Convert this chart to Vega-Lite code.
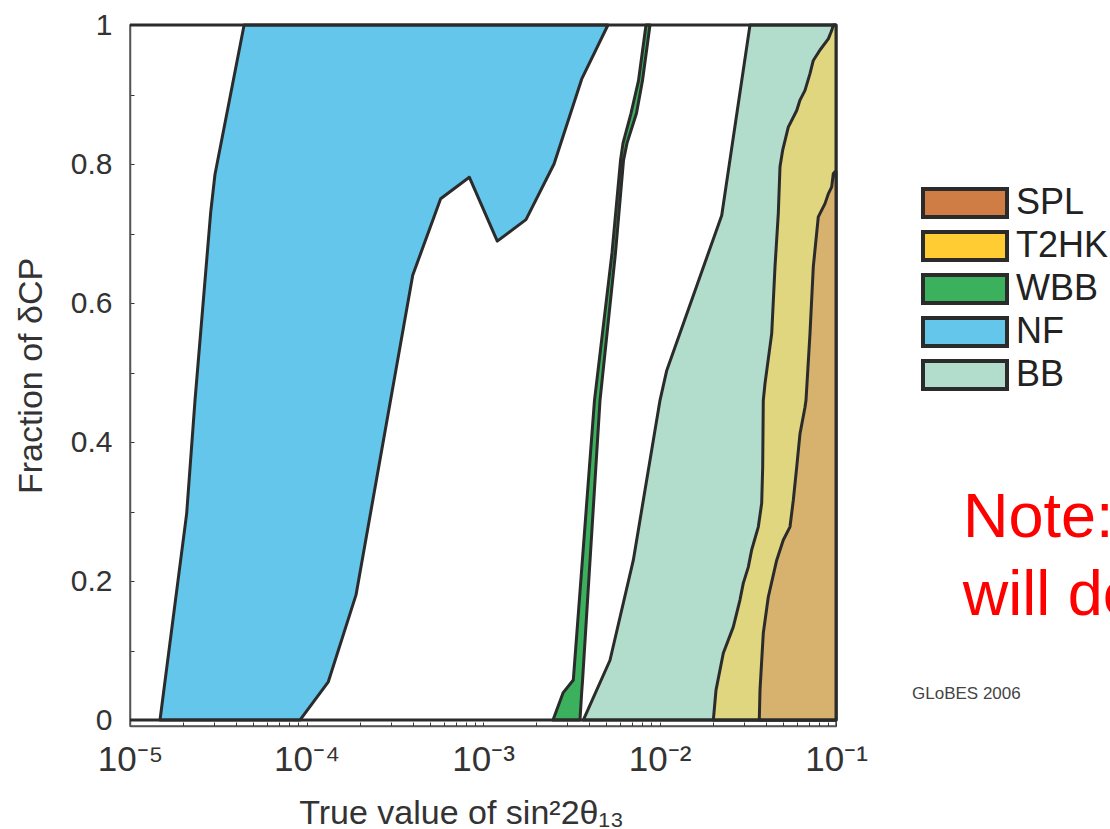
{
  "$schema": "https://vega.github.io/schema/vega-lite/v6.json",
  "autosize": {"type": "none"},
  "width": 706,
  "height": 701,
  "padding": {"left": 130, "top": 25, "right": 274, "bottom": 103},
  "background": "white",
  "config": {"font": "Liberation Sans", "view": {"stroke": "#555", "strokeWidth": 1.5}},
  "datasets": {
    "nf": [
      {"x": 1.479e-5, "lo": 0, "hi": 0},
      {"x": 2.094e-5, "lo": 0, "hi": 0.297},
      {"x": 2.335e-5, "lo": 0, "hi": 0.46},
      {"x": 2.864e-5, "lo": 0, "hi": 0.73},
      {"x": 3.03e-5, "lo": 0, "hi": 0.785},
      {"x": 4.43e-5, "lo": 0, "hi": 1},
      {"x": 9.18e-5, "lo": 0, "hi": 1},
      {"x": 1.329e-4, "lo": 0.055, "hi": 1},
      {"x": 1.908e-4, "lo": 0.18, "hi": 1},
      {"x": 3.998e-4, "lo": 0.64, "hi": 1},
      {"x": 5.754e-4, "lo": 0.75, "hi": 1},
      {"x": 8.365e-4, "lo": 0.781, "hi": 1},
      {"x": 1.205e-3, "lo": 0.689, "hi": 1},
      {"x": 1.752e-3, "lo": 0.72, "hi": 1},
      {"x": 2.526e-3, "lo": 0.8, "hi": 1},
      {"x": 3.622e-3, "lo": 0.922, "hi": 1},
      {"x": 5.105e-3, "lo": 1, "hi": 1}
    ],
    "wbb": [
      {"y": 0, "xl": 0.002493, "xr": 0.003544},
      {"y": 0.039, "xl": 0.00284, "xr": 0.003622},
      {"y": 0.0575, "xl": 0.003248, "xr": 0.003666},
      {"y": 0.46, "xl": 0.004282, "xr": 0.004602},
      {"y": 0.672, "xl": 0.005381, "xr": 0.005632},
      {"y": 0.805, "xl": 0.006012, "xr": 0.006252},
      {"y": 0.83, "xl": 0.006212, "xr": 0.006545},
      {"y": 0.873, "xl": 0.006895, "xr": 0.007407},
      {"y": 0.92, "xl": 0.007603, "xr": 0.008011},
      {"y": 1, "xl": 0.008385, "xr": 0.008835}
    ],
    "bb": [
      {"y": 0, "x": 0.0037},
      {"y": 0.086, "x": 0.005242},
      {"y": 0.23, "x": 0.007106},
      {"y": 0.46, "x": 0.010065},
      {"y": 0.503, "x": 0.01099},
      {"y": 0.726, "x": 0.02251},
      {"y": 1, "x": 0.03256}
    ],
    "t2hk": [
      {"y": 0, "x": 0.02018}, {"y": 0.043, "x": 0.0209}, {"y": 0.096, "x": 0.02298},
      {"y": 0.134, "x": 0.02619}, {"y": 0.173, "x": 0.02858}, {"y": 0.197, "x": 0.02984},
      {"y": 0.22, "x": 0.03185}, {"y": 0.245, "x": 0.0333}, {"y": 0.278, "x": 0.0363},
      {"y": 0.312, "x": 0.03793}, {"y": 0.364, "x": 0.03843}, {"y": 0.46, "x": 0.03873},
      {"y": 0.484, "x": 0.0396}, {"y": 0.556, "x": 0.04322}, {"y": 0.652, "x": 0.04512},
      {"y": 0.729, "x": 0.04711}, {"y": 0.796, "x": 0.04816}, {"y": 0.82, "x": 0.04989},
      {"y": 0.853, "x": 0.05366}, {"y": 0.877, "x": 0.05989}, {"y": 0.892, "x": 0.06252},
      {"y": 0.906, "x": 0.06673}, {"y": 0.93, "x": 0.07122}, {"y": 0.949, "x": 0.07436},
      {"y": 0.964, "x": 0.08115}, {"y": 0.98, "x": 0.09045}, {"y": 0.992, "x": 0.09454},
      {"y": 1, "x": 0.09654}
    ],
    "spl": [
      {"y": 0, "x": 0.03676}, {"y": 0.043, "x": 0.0371}, {"y": 0.125, "x": 0.03873},
      {"y": 0.177, "x": 0.04134}, {"y": 0.23, "x": 0.04613}, {"y": 0.259, "x": 0.05028},
      {"y": 0.278, "x": 0.05487}, {"y": 0.316, "x": 0.05728}, {"y": 0.364, "x": 0.05989},
      {"y": 0.412, "x": 0.06252}, {"y": 0.45, "x": 0.06673}, {"y": 0.46, "x": 0.06761},
      {"y": 0.556, "x": 0.07122}, {"y": 0.652, "x": 0.07436}, {"y": 0.724, "x": 0.07937},
      {"y": 0.743, "x": 0.08662}, {"y": 0.757, "x": 0.09045}, {"y": 0.767, "x": 0.09454},
      {"y": 0.786, "x": 0.09654}, {"y": 0.789, "x": 0.0987}
    ],
    "edges": [{"v": 0}, {"v": 1}],
    "notes": [
      {"label": "Note:", "x": 0.524, "y": 0.263},
      {"label": "will de", "x": 0.522, "y": 0.151}
    ],
    "credit": [{"label": "GLoBES 2006", "x": 0.2696, "y": 0.03}],
    "legend": [
      {"exp": "SPL"}, {"exp": "T2HK"}, {"exp": "WBB"}, {"exp": "NF"}, {"exp": "BB"}
    ]
  },
  "layer": [
    {
      "data": {"name": "nf"},
      "mark": {"type": "area", "orient": "vertical", "fill": "#63C6EA", "stroke": "#2b2b2b", "strokeWidth": 3, "strokeJoin": "round"},
      "encoding": {
        "x": {
          "field": "x", "type": "quantitative", "title": "True value of sin²2θ₁₃",
          "scale": {"type": "log", "domain": [1e-5, 0.1], "nice": false},
          "axis": {
            "values": [1e-5, 2e-5, 3e-5, 4e-5, 5e-5, 6e-5, 7e-5, 8e-5, 9e-5, 1e-4, 2e-4, 3e-4, 4e-4, 5e-4, 6e-4, 7e-4, 8e-4, 9e-4, 0.001, 0.002, 0.003, 0.004, 0.005, 0.006, 0.007, 0.008, 0.009, 0.01, 0.02, 0.03, 0.04, 0.05, 0.06, 0.07, 0.08, 0.09, 0.1],
            "labelExpr": "datum.value == 0.00001 ? '10⁻⁵' : datum.value == 0.0001 ? '10⁻⁴' : datum.value == 0.001 ? '10⁻³' : datum.value == 0.01 ? '10⁻²' : datum.value == 0.1 ? '10⁻¹' : ''",
            "labelFontSize": 35, "labelColor": "#333", "labelFlush": false, "labelOverlap": false, "labelPadding": 20,
            "tickSize": -4, "tickColor": "#333", "tickWidth": 1,
            "domainColor": "#555", "domainWidth": 1.5, "grid": false,
            "titleFontSize": 34, "titleFontWeight": "normal", "titleColor": "#333",
            "titleX": 331, "titleY": 97, "titleBaseline": "alphabetic"
          }
        },
        "y": {
          "field": "hi", "type": "quantitative", "title": "Fraction of δCP",
          "scale": {"domain": [-0.0086, 1], "nice": false, "zero": false},
          "axis": {
            "values": [0, 0.05, 0.1, 0.15, 0.2, 0.25, 0.3, 0.35, 0.4, 0.45, 0.5, 0.55, 0.6, 0.65, 0.7, 0.75, 0.8, 0.85, 0.9, 0.95, 1],
            "labelExpr": "indexof([0, 0.2, 0.4, 0.6, 0.8, 1], datum.value) >= 0 ? format(datum.value, '~g') : ''",
            "labelFontSize": 30, "labelColor": "#333", "labelFlush": false, "labelOverlap": false, "labelPadding": 22,
            "tickSize": -4, "tickColor": "#333", "tickWidth": 1,
            "domainColor": "#555", "domainWidth": 1.5, "grid": false,
            "titleFontSize": 34, "titleFontWeight": "normal", "titleColor": "#333",
            "titleX": -89, "titleBaseline": "alphabetic"
          }
        },
        "y2": {"field": "lo"}
      }
    },
    {
      "data": {"name": "wbb"},
      "mark": {"type": "area", "orient": "horizontal", "fill": "#3BB15D", "stroke": "#2b2b2b", "strokeWidth": 3, "strokeJoin": "round"},
      "encoding": {
        "y": {"field": "y", "type": "quantitative", "title": "Fraction of δCP"},
        "x": {"field": "xl", "type": "quantitative", "title": "True value of sin²2θ₁₃"},
        "x2": {"field": "xr"}
      }
    },
    {
      "data": {"name": "bb"},
      "mark": {"type": "area", "orient": "horizontal", "fill": "#B2DCCC", "stroke": "#2b2b2b", "strokeWidth": 3, "strokeJoin": "round"},
      "encoding": {
        "y": {"field": "y", "type": "quantitative", "title": "Fraction of δCP"},
        "x": {"field": "x", "type": "quantitative", "title": "True value of sin²2θ₁₃"},
        "x2": {"datum": 0.1}
      }
    },
    {
      "data": {"name": "t2hk"},
      "mark": {"type": "area", "orient": "horizontal", "fill": "#E0D67F", "stroke": "#2b2b2b", "strokeWidth": 3, "strokeJoin": "round"},
      "encoding": {
        "y": {"field": "y", "type": "quantitative", "title": "Fraction of δCP"},
        "x": {"field": "x", "type": "quantitative", "title": "True value of sin²2θ₁₃"},
        "x2": {"datum": 0.1}
      }
    },
    {
      "data": {"name": "spl"},
      "mark": {"type": "area", "orient": "horizontal", "fill": "#D6B26E", "stroke": "#2b2b2b", "strokeWidth": 3, "strokeJoin": "round"},
      "encoding": {
        "y": {"field": "y", "type": "quantitative", "title": "Fraction of δCP"},
        "x": {"field": "x", "type": "quantitative", "title": "True value of sin²2θ₁₃"},
        "x2": {"datum": 0.1}
      }
    },
    {
      "data": {"name": "edges"},
      "mark": {"type": "rule", "stroke": "#2b2b2b", "strokeWidth": 3},
      "encoding": {
        "y": {"field": "v", "type": "quantitative", "title": "Fraction of δCP"}
      }
    },
    {
      "data": {"name": "notes"},
      "mark": {"type": "text", "fontSize": 63, "color": "#FF0000", "align": "left", "baseline": "alphabetic"},
      "encoding": {
        "x": {"field": "x", "type": "quantitative", "title": "True value of sin²2θ₁₃"},
        "y": {"field": "y", "type": "quantitative", "title": "Fraction of δCP"},
        "text": {"field": "label"}
      }
    },
    {
      "data": {"name": "credit"},
      "mark": {"type": "text", "fontSize": 17, "color": "#444", "align": "left", "baseline": "alphabetic"},
      "encoding": {
        "x": {"field": "x", "type": "quantitative", "title": "True value of sin²2θ₁₃"},
        "y": {"field": "y", "type": "quantitative", "title": "Fraction of δCP"},
        "text": {"field": "label"}
      }
    },
    {
      "data": {"name": "legend"},
      "mark": {"type": "point", "filled": true, "opacity": 0},
      "encoding": {
        "x": {"datum": 0.001},
        "y": {"datum": 0.5},
        "color": {
          "field": "exp", "type": "nominal",
          "scale": {"domain": ["SPL", "T2HK", "WBB", "NF", "BB"], "range": ["#CF7C45", "#FFCC33", "#3BB15D", "#63C6EA", "#B2DCCC"]},
          "legend": {
            "title": null, "orient": "none", "legendX": 789, "legendY": 160, "padding": 0,
            "symbolType": "M-1.5,-0.5H1.5V0.5H-1.5Z", "symbolSize": 3136, "symbolOffset": 16,
            "symbolStrokeColor": "#2b2b2b", "symbolStrokeWidth": 4, "symbolOpacity": 1,
            "labelFontSize": 36, "labelColor": "#222", "labelOffset": 21, "rowPadding": 7, "clipHeight": 36,
            "encode": {"symbols": {"update": {"opacity": {"value": 1}, "fillOpacity": {"value": 1}, "stroke": {"value": "#2b2b2b"}, "strokeWidth": {"value": 4}}}}
          }
        }
      }
    }
  ]
}
